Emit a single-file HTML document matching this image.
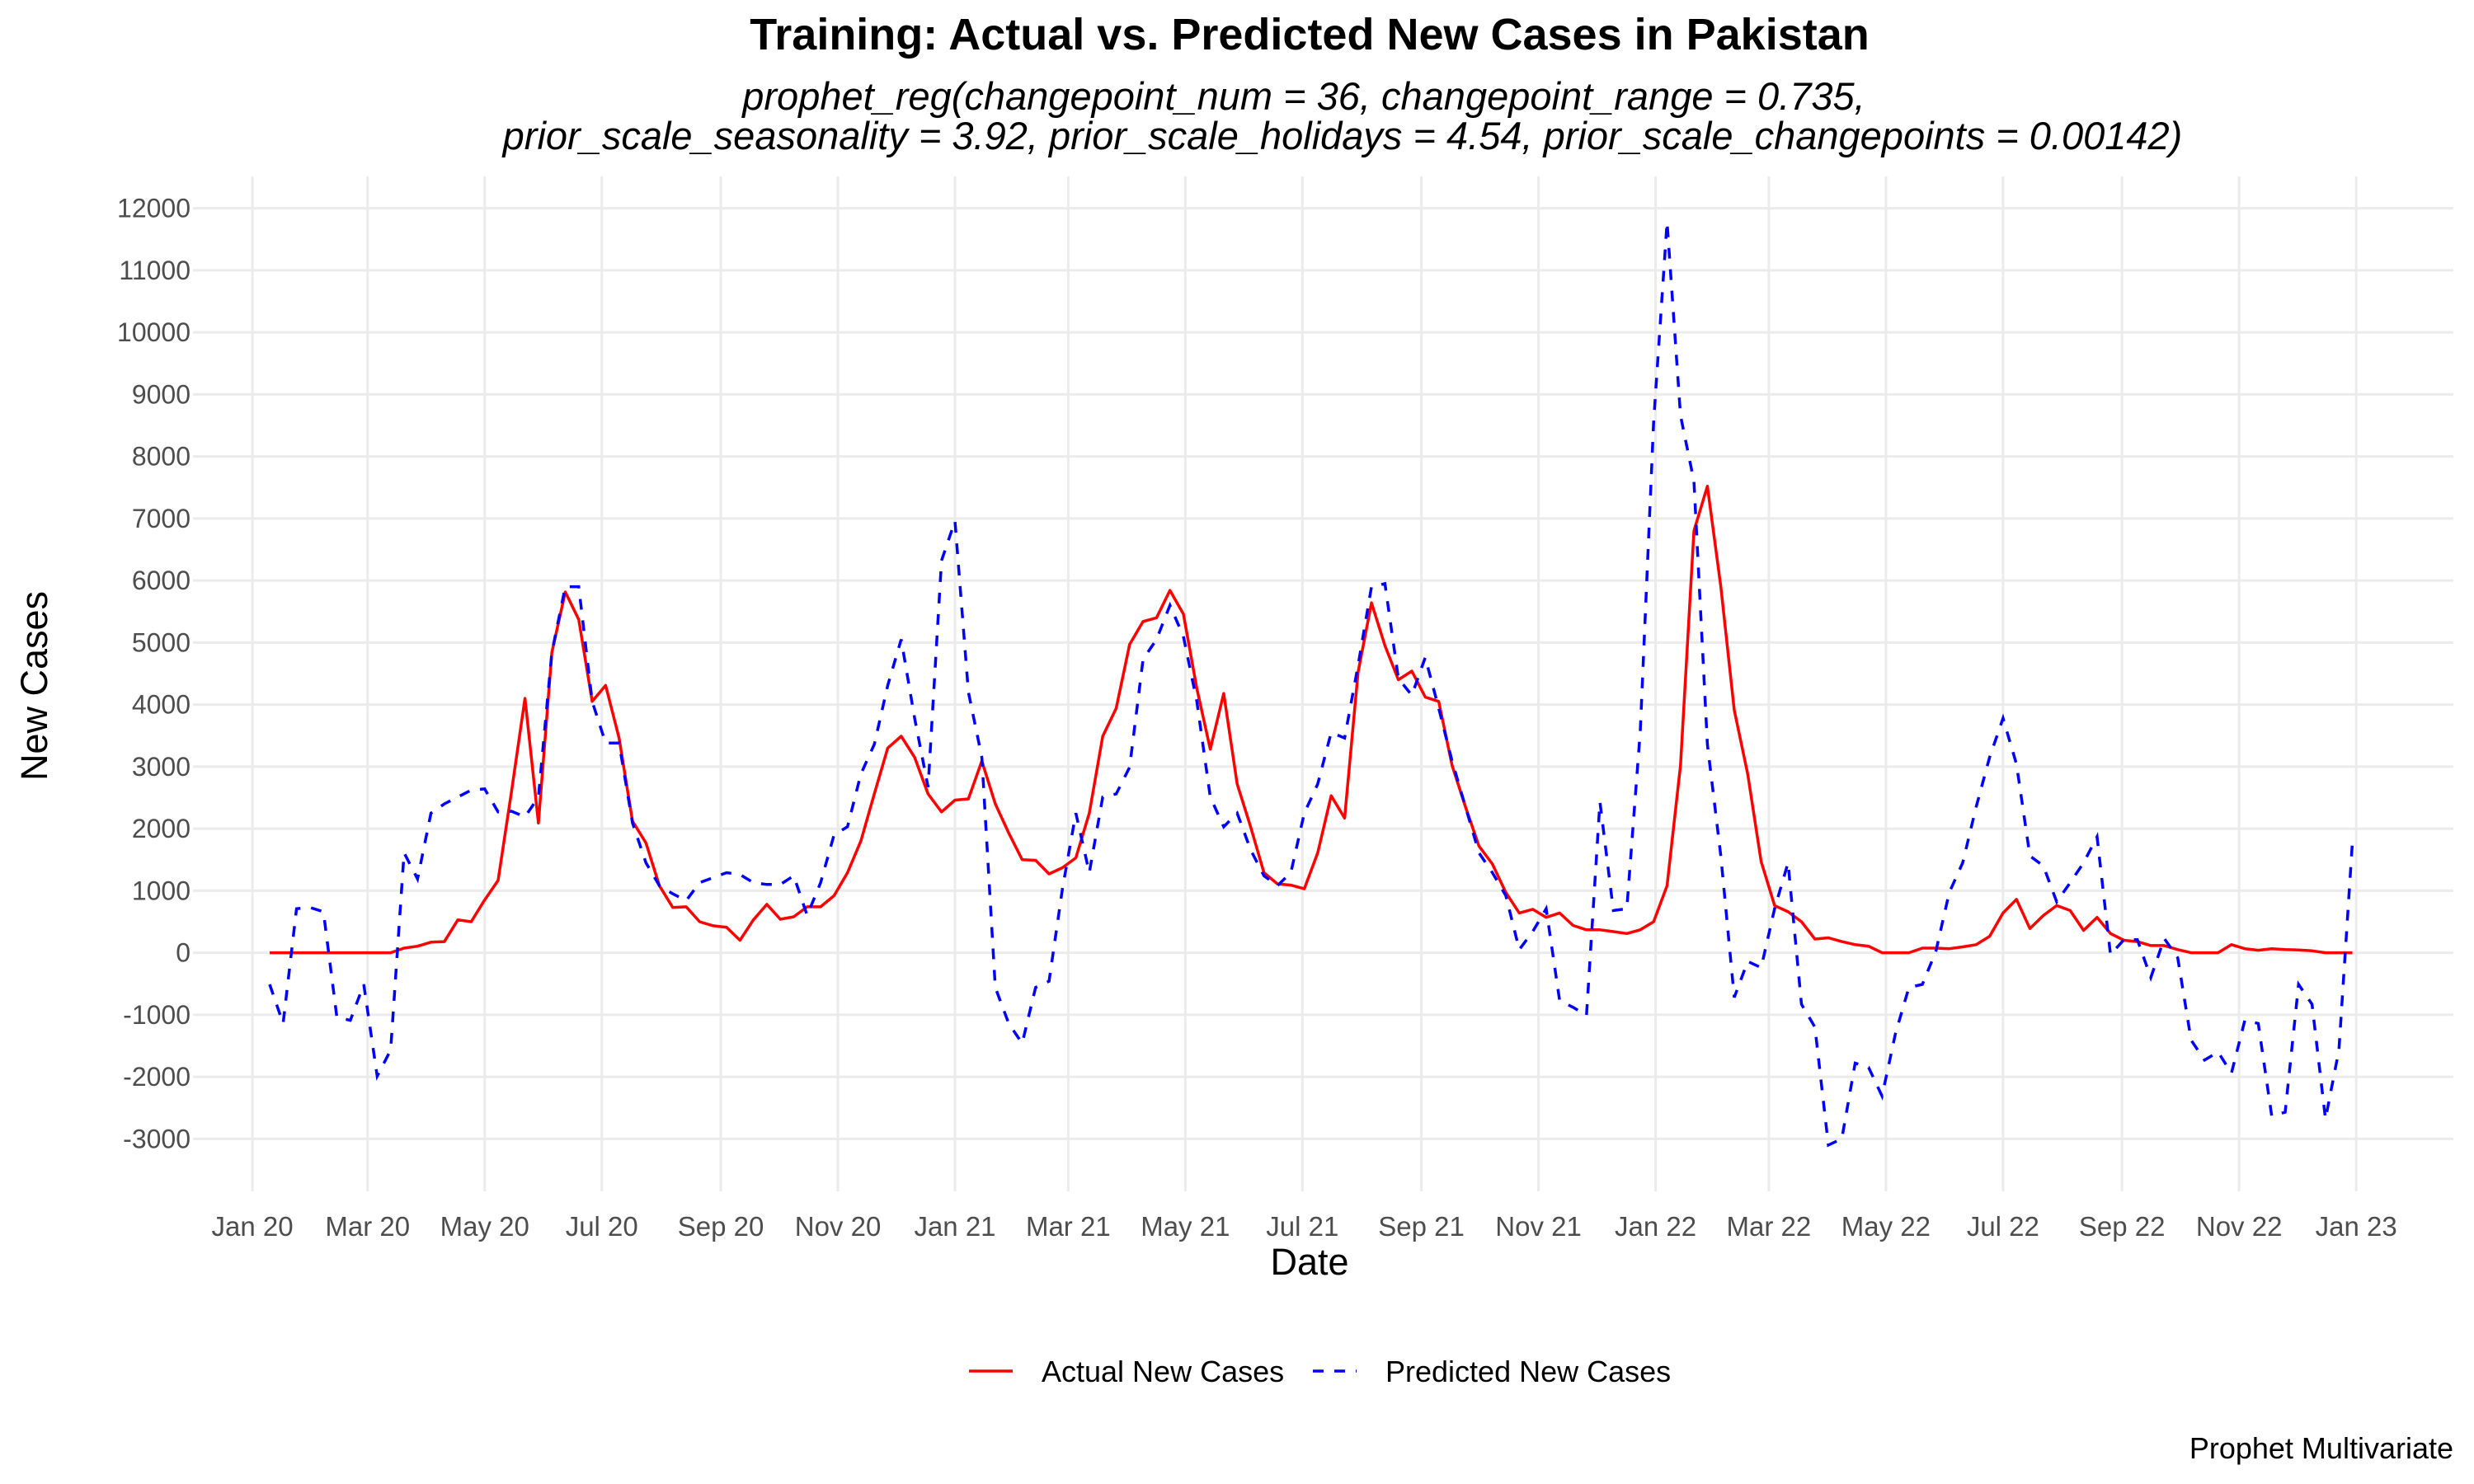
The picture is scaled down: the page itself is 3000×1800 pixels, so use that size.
<!DOCTYPE html>
<html><head><meta charset="utf-8"><style>
html,body{margin:0;padding:0;background:#fff}
svg{display:block}
text{font-family:"Liberation Sans",Arial,sans-serif}
</style></head><body>
<svg id="chart" width="3000" height="1800" viewBox="0 0 3000 1800">
<rect width="3000" height="1800" fill="#fff"/>
<text x="1588" y="60" text-anchor="middle" font-size="54" font-weight="bold" fill="#000">Training: Actual vs. Predicted New Cases in Pakistan</text>
<text x="1581" y="133" text-anchor="middle" font-size="47" font-style="italic" fill="#000">prophet_reg(changepoint_num = 36, changepoint_range = 0.735,</text>
<text x="1628" y="181" text-anchor="middle" font-size="47" font-style="italic" fill="#000">prior_scale_seasonality = 3.92, prior_scale_holidays = 4.54, prior_scale_changepoints = 0.00142)</text>
<g id="grid"></g>
<g id="yticks"></g>
<g id="xticks"></g>
<g id="series"></g>
<text x="0" y="0" transform="translate(57,832) rotate(-90)" text-anchor="middle" font-size="45" fill="#000">New Cases</text>
<text x="1588" y="1546" text-anchor="middle" font-size="45" fill="#000">Date</text>
<g>
<g>
<line x1="1175" y1="1663" x2="1228" y2="1663" stroke="#ff0000" stroke-width="3.5"/>
<text x="1263" y="1676" font-size="36" fill="#000">Actual New Cases</text>
</g>
<g>
<line x1="1592" y1="1663" x2="1645" y2="1663" stroke="#0000ff" stroke-width="3.5" stroke-dasharray="13,13"/>
<text x="1680" y="1676" font-size="36" fill="#000">Predicted New Cases</text>
</g>
</g>
<text x="2975" y="1769" text-anchor="end" font-size="36" fill="#000">Prophet Multivariate</text>
</svg>
<script>
const startDate = "2020-01-10";
const actual = [0,0,0,0,0,0,0,0,0,0,75,105,170,180,530,500,850,1165,2600,4100,2090,4840,5815,5370,4050,4310,3460,2120,1770,1080,730,740,500,435,410,200,530,780,540,580,740,740,920,1290,1800,2560,3300,3490,3150,2560,2270,2460,2480,3090,2400,1930,1500,1490,1270,1370,1530,2250,3490,3940,4970,5340,5400,5840,5460,4260,3280,4180,2720,2030,1290,1110,1090,1030,1610,2530,2170,4520,5640,4950,4400,4540,4120,4050,3020,2350,1720,1430,970,640,700,570,640,440,370,370,340,310,370,500,1080,3020,6800,7520,5900,3910,2880,1470,760,660,500,220,240,180,130,105,0,0,0,75,75,65,95,130,265,640,860,390,600,760,680,360,570,310,200,180,115,115,50,0,0,0,130,65,40,65,50,45,30,0,0,0];
const predicted = [-510,-1140,710,730,660,-1040,-1090,-510,-1990,-1570,1610,1190,2250,2400,2510,2620,2640,2270,2280,2190,2510,4840,5900,5900,4050,3380,3380,2090,1450,1080,950,840,1130,1210,1290,1260,1130,1100,1100,1240,600,1130,1900,2030,2880,3360,4310,5050,3780,2670,6320,6960,4200,3150,-560,-1140,-1460,-560,-460,1030,2250,1290,2510,2560,2990,4730,5050,5600,5100,4050,2510,2030,2250,1660,1240,1080,1290,2250,2720,3550,3460,4630,5900,5950,4420,4150,4760,3940,3090,2350,1610,1290,920,50,340,710,-770,-880,-1010,2430,680,710,3570,8550,11780,8660,7600,3360,1560,-720,-140,-240,710,1450,-830,-1200,-3100,-3000,-1780,-1850,-2310,-1300,-560,-510,20,970,1450,2350,3150,3780,3040,1560,1400,820,1130,1450,1870,-30,210,210,-400,230,-80,-1410,-1730,-1600,-1940,-1090,-1140,-2630,-2570,-510,-830,-2680,-1570,1770];
const yTicks = [-3000,-2000,-1000,0,1000,2000,3000,4000,5000,6000,7000,8000,9000,10000,11000,12000];
const xTickLabels = ["Jan 20","Mar 20","May 20","Jul 20","Sep 20","Nov 20","Jan 21","Mar 21","May 21","Jul 21","Sep 21","Nov 21","Jan 22","Mar 22","May 22","Jul 22","Sep 22","Nov 22","Jan 23"];
const xTickDates = ["2020-01-01","2020-03-01","2020-05-01","2020-07-01","2020-09-01","2020-11-01","2021-01-01","2021-03-01","2021-05-01","2021-07-01","2021-09-01","2021-11-01","2022-01-01","2022-03-01","2022-05-01","2022-07-01","2022-09-01","2022-11-01","2023-01-01"];

const NS="http://www.w3.org/2000/svg";
const origin=Date.UTC(2020,0,1);
function dayOf(s){const p=s.split("-");return (Date.UTC(+p[0],+p[1]-1,+p[2])-origin)/86400000;}
function xScale(day){return 306.1+day*2.3276;}
function yScale(v){return 1155.6-v*0.07525;}
const PL=234,PR=2975,PT=214,PB=1445;
function mk(tag,attrs,parent){const e=document.createElementNS(NS,tag);for(const k in attrs)e.setAttribute(k,attrs[k]);parent.appendChild(e);return e;}
const grid=document.getElementById('grid'),yt=document.getElementById('yticks'),xt=document.getElementById('xticks'),ser=document.getElementById('series');
yTicks.forEach(v=>{
  const y=yScale(v);
  const l=mk('line',{x1:PL,x2:PR,y1:y,y2:y,stroke:'#ebebeb','stroke-width':3},grid);
  
  
  const t=mk('text',{x:231,y:y+11,'text-anchor':'end','font-size':32,fill:'#4d4d4d'},yt);
  t.textContent=String(v);
  
  
});
xTickDates.forEach((d,i)=>{
  const x=xScale(dayOf(d));
  const l=mk('line',{x1:x,x2:x,y1:PT,y2:PB,stroke:'#ebebeb','stroke-width':3},grid);
  
  
  const t=mk('text',{x:x,y:1499,'text-anchor':'middle','font-size':33,fill:'#4d4d4d'},xt);
  t.textContent=xTickLabels[i];
  
  
});
const d0=dayOf(startDate);
function pts(arr){return arr.map((v,i)=>xScale(d0+7*i).toFixed(1)+','+yScale(v).toFixed(1)).join(' ');}
const pa=mk('polyline',{points:pts(actual),fill:'none',stroke:'#ff0000','stroke-width':3.5,'stroke-linejoin':'round'},ser);


const pp=mk('polyline',{points:pts(predicted),fill:'none',stroke:'#0000ff','stroke-width':3.5,'stroke-dasharray':'13,13'},ser);


</script>
</body></html>
